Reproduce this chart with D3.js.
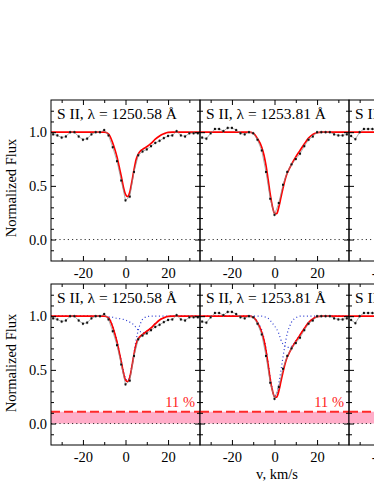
<!DOCTYPE html>
<html>
<head>
<meta charset="utf-8">
<script src="https://cdn.jsdelivr.net/npm/d3@7"></script>
<style>
  body { margin: 0; background: #fff; }
  text { font-family: "Liberation Serif", "DejaVu Serif", serif; }
</style>
</head>
<body>
<div id="chart"></div>
<script>
// observed velocity grid (km/s) and normalized flux
var vel = [-34,-32,-30,-28,-26,-24,-22,-20,-18,-16,-14,-12,-10,-8,-6,-4,-2,0,2,4,6,8,10,12,14,16,18,20,22,24,26,28,30,32,34];
var flux1250 = [0.98,0.97,0.95,0.96,1.0,1.0,0.96,0.93,0.94,0.98,1.0,1.0,1.02,0.97,0.86,0.73,0.55,0.365,0.40,0.63,0.785,0.82,0.84,0.87,0.90,0.92,0.945,0.965,0.97,1.01,0.97,0.96,0.99,0.99,0.99];
var flux1253 = [0.95,0.94,0.99,1.03,1.03,1.01,1.04,1.04,1.02,0.99,0.98,1.0,0.99,0.93,0.83,0.63,0.38,0.23,0.34,0.51,0.63,0.70,0.75,0.80,0.87,0.93,0.96,1.0,1.0,1.0,1.0,0.98,0.97,0.97,0.98];
// third line, only the blue edge is inside the figure
var vel1259 = [-34,-32,-30,-28,-26,-24,-22,-20];
var flux1259 = [0.965,0.935,1.0,1.03,1.03,1.03,1.02,1.0];
var errBar = 0.015;

// model profiles
var fitVel = [-35,-12,-10,-8,-6,-5,-4,-3,-2,-1,0,1,2,3,4,5,6,7,8,10,12,14,16,18,20,22,35];
var fitTop1250 = [1,1,1,0.985,0.90,0.84,0.77,0.68,0.59,0.49,0.42,0.40,0.44,0.54,0.65,0.745,0.795,0.825,0.84,0.865,0.895,0.935,0.965,0.985,0.998,1,1];
var fitTop1253 = [1,1,0.99,0.94,0.86,0.79,0.69,0.56,0.42,0.31,0.245,0.24,0.30,0.39,0.48,0.56,0.62,0.66,0.70,0.77,0.83,0.89,0.945,0.98,0.995,1,1];
var fitBot1250 = [1,1,1,0.985,0.90,0.835,0.76,0.67,0.575,0.475,0.405,0.39,0.43,0.53,0.645,0.74,0.79,0.815,0.83,0.86,0.89,0.93,0.965,0.985,0.998,1,1];
var fitBot1253 = [1,1,0.99,0.94,0.85,0.78,0.68,0.55,0.41,0.31,0.25,0.245,0.30,0.39,0.48,0.56,0.62,0.66,0.70,0.765,0.825,0.885,0.94,0.975,0.995,1,1];
var compA1250 = [1,1,1,0.99,0.905,0.845,0.77,0.68,0.59,0.49,0.42,0.40,0.44,0.54,0.66,0.78,0.87,0.93,0.97,0.995,1,1,1,1,1,1,1];
var compB1250 = [1,1,1,0.995,0.99,0.985,0.98,0.978,0.975,0.97,0.965,0.955,0.945,0.935,0.915,0.895,0.87,0.855,0.845,0.86,0.89,0.93,0.965,0.985,0.998,1,1];
var compA1253 = [1,1,0.995,0.95,0.87,0.80,0.70,0.57,0.43,0.32,0.26,0.27,0.37,0.49,0.62,0.74,0.84,0.90,0.945,0.985,1,1,1,1,1,1,1];
var compB1253 = [1,1,1,1,1,0.995,0.99,0.98,0.96,0.935,0.91,0.88,0.84,0.78,0.74,0.72,0.71,0.71,0.72,0.77,0.825,0.885,0.94,0.975,0.995,1,1];
var flatFit = [1,1,1,1,1,1,1,1,1,1,1,1,1,1,1,1,1,1,1,1,1,1,1,1,1,1,1];

var titles = ["S II, \u03bb = 1250.58 \u00c5", "S II, \u03bb = 1253.81 \u00c5", "S II, \u03bb = 1259.52 \u00c5"];
var xTicks = [-20, 0, 20], xMinor = [-30, -10, 10, 30];
var yTicks = [0, 0.5, 1.0], yMinor = [-0.1, 0.1, 0.2, 0.3, 0.4, 0.6, 0.7, 0.8, 0.9, 1.1, 1.2];
var bandLevel = 0.11, bandLabel = "11 %";

var W = 374, H = 484;
var pw = 149, ph = 161;
var colX = [51, 200, 349], rowY = [100, 284];

var svg = d3.select("#chart").append("svg")
    .attr("width", W).attr("height", H);

var panels = [
  { row: 0, col: 0, vel: vel, flux: flux1250, fit: fitTop1250, comps: [] },
  { row: 0, col: 1, vel: vel, flux: flux1253, fit: fitTop1253, comps: [] },
  { row: 0, col: 2, vel: vel1259, flux: flux1259, fit: flatFit, comps: [] },
  { row: 1, col: 0, vel: vel, flux: flux1250, fit: fitBot1250, comps: [compA1250, compB1250], band: true },
  { row: 1, col: 1, vel: vel, flux: flux1253, fit: fitBot1253, comps: [compA1253, compB1253], band: true },
  { row: 1, col: 2, vel: vel1259, flux: flux1259, fit: flatFit, comps: [], band: true }
];

panels.forEach(function (p, i) {
  var x0 = colX[p.col], y0 = rowY[p.row];
  var x = d3.scaleLinear().domain([-35, 35]).range([x0, x0 + pw]);
  var y = d3.scaleLinear().domain([-0.2, 1.3]).range([y0 + ph, y0]);

  svg.append("clipPath").attr("id", "clip" + i)
    .append("rect").attr("x", x0).attr("y", y0).attr("width", pw).attr("height", ph);
  var g = svg.append("g").attr("clip-path", "url(#clip" + i + ")");

  // pink band + dashed level
  if (p.band) {
    g.append("rect")
      .attr("x", x0).attr("width", pw)
      .attr("y", y(bandLevel)).attr("height", y(0) - y(bandLevel))
      .attr("fill", "#ffadc8");
    g.append("line")
      .attr("x1", x0).attr("x2", x0 + pw)
      .attr("y1", y(bandLevel)).attr("y2", y(bandLevel))
      .attr("stroke", "#ff2a2a").attr("stroke-width", 2)
      .attr("stroke-dasharray", "9,4");
  }

  // zero level
  g.append("line")
    .attr("x1", x0).attr("x2", x0 + pw)
    .attr("y1", y(0)).attr("y2", y(0))
    .attr("stroke", "#333").attr("stroke-width", 1)
    .attr("stroke-dasharray", "1.2,3");

  var line = d3.line().curve(d3.curveMonotoneX)
    .x(function (d) { return x(d[0]); })
    .y(function (d) { return y(d[1]); });

  // components
  p.comps.forEach(function (c) {
    g.append("path")
      .datum(d3.zip(fitVel, c))
      .attr("fill", "none")
      .attr("stroke", "#2b3bd0")
      .attr("stroke-width", 1.2)
      .attr("stroke-dasharray", "1,2.6")
      .attr("d", line);
  });

  // total fit
  g.append("path")
    .datum(d3.zip(fitVel, p.fit))
    .attr("fill", "none")
    .attr("stroke", "#ff0000")
    .attr("stroke-width", 1.7)
    .attr("d", line);

  // observed spectrum
  var obs = d3.zip(p.vel, p.flux);
  g.append("path")
    .datum(obs)
    .attr("fill", "none")
    .attr("stroke", "#8a8a8a")
    .attr("stroke-width", 0.7)
    .attr("d", d3.line()
      .x(function (d) { return x(d[0]); })
      .y(function (d) { return y(d[1]); }));
  g.append("g").selectAll("line")
    .data(obs).enter().append("line")
    .attr("x1", function (d) { return x(d[0]); })
    .attr("x2", function (d) { return x(d[0]); })
    .attr("y1", function (d) { return y(d[1] - errBar); })
    .attr("y2", function (d) { return y(d[1] + errBar); })
    .attr("stroke", "#9a9a9a").attr("stroke-width", 0.8);
  g.append("g").selectAll("rect")
    .data(obs).enter().append("rect")
    .attr("x", function (d) { return x(d[0]) - 1; })
    .attr("y", function (d) { return y(d[1]) - 1; })
    .attr("width", 2).attr("height", 2)
    .attr("fill", "#111");

  // title
  g.append("text")
    .attr("x", x0 + 6).attr("y", y0 + 19)
    .attr("font-size", 15.5).attr("fill", "#000")
    .text(titles[p.col]);

  if (p.band) {
    g.append("text")
      .attr("x", x0 + pw - 5).attr("y", y(bandLevel) - 5)
      .attr("text-anchor", "end")
      .attr("font-size", 14.5).attr("fill", "#ff2020")
      .text(bandLabel);
  }

  // axes, ticks pointing inward on all four sides
  var fmtX = function (d) { return String(d); };
  var ax = [
    [d3.axisBottom(x).tickValues(xTicks).tickSize(-5).tickPadding(7).tickFormat(fmtX), "translate(0," + (y0 + ph) + ")"],
    [d3.axisBottom(x).tickValues(xMinor).tickSize(-3).tickFormat(""), "translate(0," + (y0 + ph) + ")"],
    [d3.axisTop(x).tickValues(xTicks).tickSize(-5).tickFormat(""), "translate(0," + y0 + ")"],
    [d3.axisTop(x).tickValues(xMinor).tickSize(-3).tickFormat(""), "translate(0," + y0 + ")"],
    [d3.axisLeft(y).tickValues(yTicks).tickSize(-5).tickPadding(4)
       .tickFormat(p.col === 0 ? d3.format(".1f") : ""), "translate(" + x0 + ",0)"],
    [d3.axisLeft(y).tickValues(yMinor).tickSize(-3).tickFormat(""), "translate(" + x0 + ",0)"],
    [d3.axisRight(y).tickValues(yTicks).tickSize(-5).tickFormat(""), "translate(" + (x0 + pw) + ",0)"],
    [d3.axisRight(y).tickValues(yMinor).tickSize(-3).tickFormat(""), "translate(" + (x0 + pw) + ",0)"]
  ];
  ax.forEach(function (a) {
    var ag = svg.append("g").attr("transform", a[1]).call(a[0]);
    ag.select(".domain").remove();
    ag.selectAll("text")
      .attr("font-family", "Liberation Serif")
      .attr("font-size", 14.5).attr("fill", "#000");
    ag.selectAll("line").attr("stroke", "#000");
  });

  svg.append("rect")
    .attr("x", x0).attr("y", y0).attr("width", pw).attr("height", ph)
    .attr("fill", "none").attr("stroke", "#000").attr("stroke-width", 1);
});

// axis titles
[188, 363].forEach(function (cy) {
  svg.append("text")
    .attr("transform", "translate(15.5," + cy + ") rotate(-90)")
    .attr("text-anchor", "middle")
    .attr("font-size", 14.5)
    .text("Normalized Flux");
});
svg.append("text")
  .attr("x", 277).attr("y", 479)
  .attr("text-anchor", "middle")
  .attr("font-size", 14.5)
  .text("v, km/s");
</script>
</body>
</html>
